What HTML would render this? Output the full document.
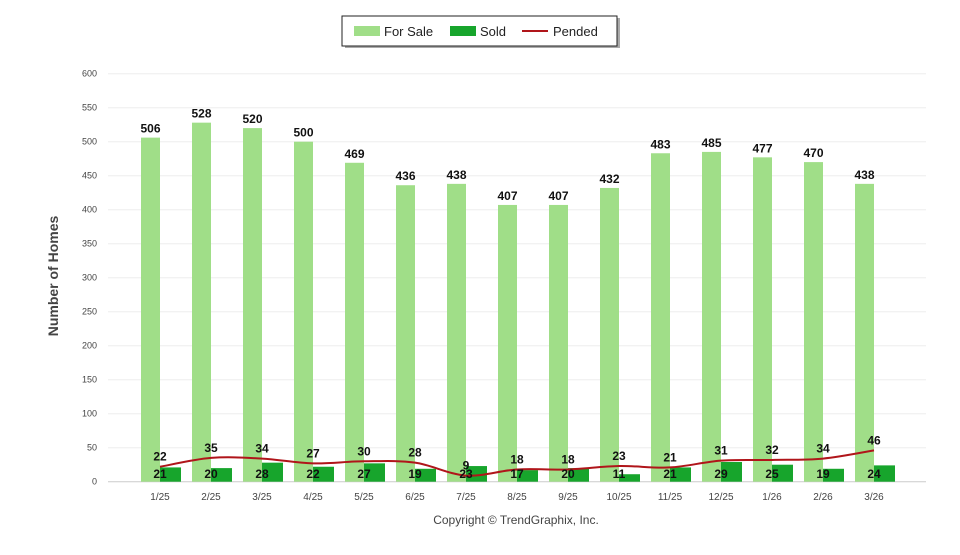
<!DOCTYPE html>
<html><head><meta charset="utf-8"><style>
body{margin:0;background:#fff;width:960px;height:550px;overflow:hidden;font-family:"Liberation Sans",sans-serif}
</style></head><body>
<svg id="c" width="960" height="550" xmlns="http://www.w3.org/2000/svg" font-family="Liberation Sans, sans-serif">
<g>
<rect x="345" y="18" width="275" height="30" fill="#555" opacity="0.5"/>
<rect x="342" y="16" width="275" height="30" fill="#fff" stroke="#222" stroke-width="1"/>
<rect x="354" y="26" width="26" height="10" fill="#a0de88"/>
<text x="384" y="36" font-size="13" fill="#222">For Sale</text>
<rect x="450" y="26" width="26" height="10" fill="#17a52c"/>
<text x="480" y="36" font-size="13" fill="#222">Sold</text>
<line x1="522" y1="31" x2="548" y2="31" stroke="#b0151a" stroke-width="2"/>
<text x="553" y="36" font-size="13" fill="#222">Pended</text>
</g>
<text transform="translate(58,276) rotate(-90)" text-anchor="middle" font-size="14" font-weight="bold" fill="#444">Number of Homes</text>
<text x="516" y="524" text-anchor="middle" font-size="12" fill="#444">Copyright © TrendGraphix, Inc.</text>
<g id="grid"></g><g id="bars"></g><g id="line"></g><g id="labels"></g>
</svg>
<script>
const categories=["1/25","2/25","3/25","4/25","5/25","6/25","7/25","8/25","9/25","10/25","11/25","12/25","1/26","2/26","3/26"];
const forSale=[506,528,520,500,469,436,438,407,407,432,483,485,477,470,438];
const sold=[21,20,28,22,27,19,23,17,20,11,21,29,25,19,24];
const pended=[22,35,34,27,30,28,9,18,18,23,21,31,32,34,46];
const yTicks=[0,50,100,150,200,250,300,350,400,450,500,550,600];
const NS="http://www.w3.org/2000/svg";
const y=v=>481.7-v*0.68;
const x=i=>160+51*i;
function mk(tag,attrs,parent,text){const e=document.createElementNS(NS,tag);for(const k in attrs)e.setAttribute(k,attrs[k]);if(text!==undefined)e.textContent=text;document.getElementById(parent).appendChild(e);return e;}
yTicks.forEach(t=>{
 const l=mk('line',{x1:108,x2:926,y1:y(t),y2:y(t),stroke:t===0?'#ccc':'#eee','stroke-width':1},'grid');
 
 
 const tx=mk('text',{x:97,y:y(t)+3,'text-anchor':'end','font-size':9,fill:'#444'},'grid',t);
 
 
});
categories.forEach((c,i)=>{
 const tx=mk('text',{x:x(i),y:500,'text-anchor':'middle','font-size':10,fill:'#444'},'grid',c);
 
 
 const b=mk('rect',{x:x(i)-19,y:y(forSale[i]),width:19,height:y(0)-y(forSale[i]),fill:'#a0de88'},'bars');
 
 
 const s=mk('rect',{x:x(i),y:y(sold[i]),width:21,height:y(0)-y(sold[i]),fill:'#17a52c'},'bars');
 
 
 const l1=mk('text',{x:x(i)-9.5,y:y(forSale[i])-5,'text-anchor':'middle','font-size':12,'font-weight':'bold',fill:'#111'},'labels',forSale[i]);
 
 
 const l2=mk('text',{x:x(i),y:478,'text-anchor':'middle','font-size':12,'font-weight':'bold',fill:'#111'},'labels',sold[i]);
 
 
 const l3=mk('text',{x:x(i),y:y(pended[i])-6,'text-anchor':'middle','font-size':12,'font-weight':'bold',fill:'#111'},'labels',pended[i]);
 
 
});
const pts=pended.map((v,i)=>[x(i),y(v)]);
let d='M'+pts[0][0]+','+pts[0][1];
for(let i=0;i<pts.length-1;i++){
 const p0=pts[Math.max(0,i-1)],p1=pts[i],p2=pts[i+1],p3=pts[Math.min(pts.length-1,i+2)];
 const c1=[p1[0]+(p2[0]-p0[0])/6,p1[1]+(p2[1]-p0[1])/6],c2=[p2[0]-(p3[0]-p1[0])/6,p2[1]-(p3[1]-p1[1])/6];
 d+=' C'+c1+' '+c2+' '+p2;
}
const pl=mk('path',{d:d,fill:'none',stroke:'#b0151a','stroke-width':2},'line');


</script>
</body></html>
